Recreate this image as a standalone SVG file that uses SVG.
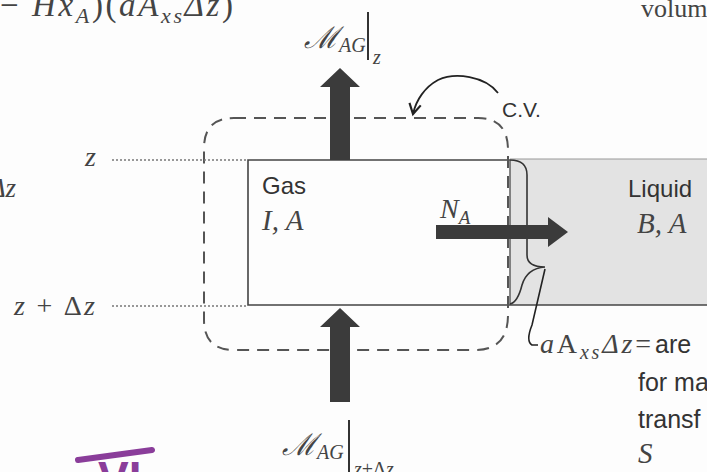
<svg xmlns="http://www.w3.org/2000/svg" width="707" height="472" viewBox="0 0 707 472">
<defs>
<style>
.m{font-family:"Liberation Serif","DejaVu Serif",serif;font-style:italic;fill:#444}
.s{font-family:"Liberation Sans","DejaVu Sans",sans-serif;fill:#333}
.up{font-style:normal}
.box{fill:none;stroke:#444;stroke-width:1.6}
.dot{stroke:#777;stroke-width:1.5;stroke-dasharray:2 2}
.arr{fill:#3b3b3b}
</style>
<marker id="vh" viewBox="0 0 10 10" refX="8" refY="5" markerWidth="8" markerHeight="8" orient="auto">
<path d="M1 1 L8 5 L1 9" fill="none" stroke="#222" stroke-width="1.5"/>
</marker>
</defs>
<rect width="707" height="472" fill="#fdfdfd"/>
<!-- top-left equation fragment -->
<text class="m" x="0" y="16" font-size="33" fill="#333" textLength="233" lengthAdjust="spacing"><tspan class="up">−</tspan> H<tspan>x</tspan><tspan font-size="22" dy="7">A</tspan><tspan dy="-7" class="up">)(</tspan>aA<tspan font-size="22" dy="7">xs</tspan><tspan dy="-7">Δz</tspan><tspan class="up">)</tspan></text>
<text class="m" x="641" y="17" font-size="26" style="font-style:normal" fill="#555">volume</text>
<text class="m" x="16" y="197" font-size="27" text-anchor="end" fill="#333">Δz</text>
<!-- liquid region -->
<g id="liquid">
<rect x="510" y="159" width="197" height="146" fill="#e3e3e3"/>
<line x1="510" y1="159" x2="707" y2="159" stroke="#999" stroke-width="1"/>
<line x1="510" y1="305" x2="707" y2="305" stroke="#444" stroke-width="1.6"/>
<text class="s" x="628" y="197" font-size="24">Liquid</text>
<text class="m" x="637" y="233" font-size="29">B, A</text>
</g>
<!-- gas region -->
<g id="gas">
<path class="box" d="M510 160 H248 V305 H510"/>
<line x1="510" y1="160" x2="510" y2="305" stroke="#555" stroke-width="1.4"/>
<text class="s" x="262" y="194" font-size="24">Gas</text>
<text class="m" x="262" y="230" font-size="29">I, A</text>
</g>
<!-- control volume -->
<g id="cv">
<path d="M234 118 H478 Q508 118 508 150 V315 Q508 350 475 350 H234 Q204 350 204 320 V148 Q204 118 234 118 Z" fill="none" stroke="#555" stroke-width="2" stroke-dasharray="12 8"/>
<text class="s" x="502" y="117" font-size="21">C.V.</text>
</g>
<!-- z labels -->
<g id="zlabels">
<text class="m" x="85" y="166" font-size="28" fill="#666">z</text>
<text class="m" x="14" y="315" font-size="28" fill="#666" textLength="81" lengthAdjust="spacing">z <tspan class="up">+ Δ</tspan>z</text>
</g>
<!-- interface brace and label -->
<g id="interface">
<path d="M510 160 C522 160 527 165 527 175 L527 255 C527 263 533 267 545 267 C531 268 525 275 522 285 C519 297 515 303 510 304" fill="none" stroke="#333" stroke-width="1.6"/>
<text class="m" x="540" y="353" font-size="28" fill="#333" textLength="111" lengthAdjust="spacing">a<tspan class="up">A</tspan><tspan font-size="20" dy="6">xs</tspan><tspan dy="-6">Δz</tspan><tspan class="up">=</tspan></text>
<text class="s" x="655" y="353" font-size="25">are</text>
<text class="s" x="638" y="391" font-size="25">for ma</text>
<text class="s" x="638" y="428" font-size="25">transf</text>
<text class="m" x="638" y="463" font-size="29" fill="#333">S</text>
</g>
<!-- flux labels -->
<g id="mtop">
<text class="m" x="304" y="48" font-size="30" fill="#333">ℳ<tspan font-size="20" dy="4">AG</tspan></text>
<line x1="368" y1="12" x2="368" y2="60" stroke="#333" stroke-width="2"/>
<text class="m" x="373" y="64" font-size="20" fill="#333">z</text>
</g>
<g id="mbot">
<text class="m" x="282" y="455" font-size="30" fill="#333">ℳ<tspan font-size="20" dy="4">AG</tspan></text>
<line x1="349" y1="420" x2="349" y2="472" stroke="#333" stroke-width="2"/>
<text class="m" x="354" y="476" font-size="20" fill="#333">z<tspan class="up">+Δ</tspan>z</text>
</g>
<g id="na">
<text class="m" x="440" y="218" font-size="28" fill="#333">N<tspan font-size="19" dy="6">A</tspan></text>
</g>
<!-- connectors -->
<g id="connectors">
<polygon class="arr" points="330,160 330,87 320,87 340,68 360,87 350,87 350,160"/>
<polygon class="arr" points="330,402 330,327 320,327 340,308 360,327 350,327 350,402"/>
<polygon class="arr" points="436,225 548,225 548,217 568,232 548,247 548,239 436,239"/>
<line class="dot" x1="112" y1="160" x2="248" y2="160"/>
<line class="dot" x1="112" y1="306" x2="248" y2="306"/>
<path d="M498 93 C485 76 455 72 438 80 C425 87 416 100 413 114" fill="none" stroke="#222" stroke-width="1.8" marker-end="url(#vh)"/>
<path d="M545 269 L532 325 C528 335 527 342 532 345 L538 345" fill="none" stroke="#222" stroke-width="1.6"/>
</g>
<!-- handwritten mark -->
<g id="mark">
<line x1="78" y1="460" x2="152" y2="450" stroke="#8a3d9a" stroke-width="6" stroke-linecap="round"/>
<text x="98" y="494" font-family="Liberation Sans, sans-serif" font-size="46" font-weight="bold" fill="#8a3d9a">VI</text>
</g>
</svg>
